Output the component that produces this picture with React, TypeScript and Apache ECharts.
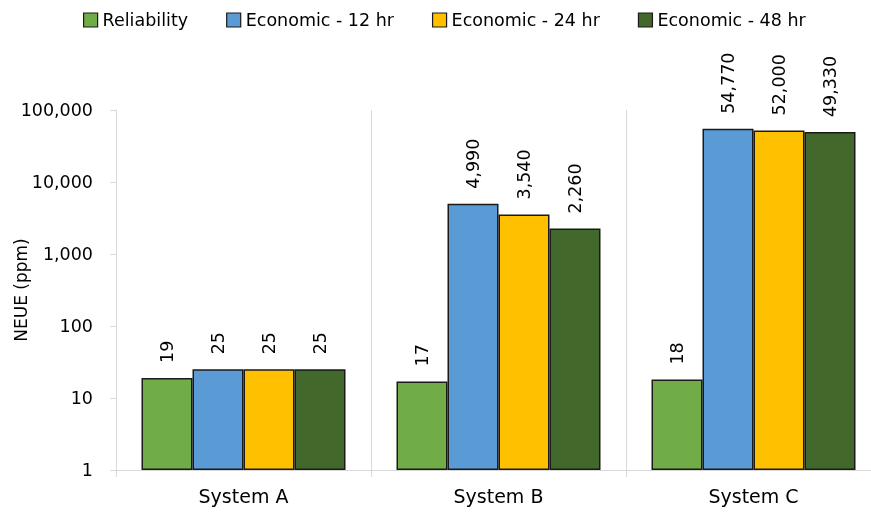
import React, { useEffect, useRef } from "react";
import * as echarts from "echarts";

const categories = ["System A", "System B", "System C"];
const seriesNames = ["Reliability", "Economic - 12 hr", "Economic - 24 hr", "Economic - 48 hr"];
const reliability = [19, 17, 18];
const economic12 = [25, 4990, 54770];
const economic24 = [25, 3540, 52000];
const economic48 = [25, 2260, 49330];
const colors = ["#70ad47", "#5b9bd5", "#ffc000", "#43682b"];

const fmt = (v: number) => Number(v).toLocaleString("en-US");

export default function App() {
  const ref = useRef<HTMLDivElement>(null);
  useEffect(() => {
    if (!ref.current) return;
    const chart = echarts.init(ref.current, null, { renderer: "svg" });
    const allData = [reliability, economic12, economic24, economic48];
    chart.setOption({
      animation: false,
      textStyle: { fontFamily: "DejaVu Sans" },
      legend: {
        top: 6,
        left: 78,
        itemWidth: 14,
        itemHeight: 14,
        itemGap: 38,
        icon: "rect",
        itemStyle: { borderColor: "#1a1a1a", borderWidth: 1.2 },
        textStyle: { fontFamily: "DejaVu Sans", fontSize: 17.5, color: "#000" },
        data: seriesNames,
      },
      grid: { left: 116, right: -10, top: 110, bottom: 44, outerBoundsMode: "none", containLabel: false },
      xAxis: {
        type: "category",
        data: categories,
        axisLine: { lineStyle: { color: "#d9d9d9", width: 1 } },
        axisTick: { show: true, length: 7, lineStyle: { color: "#d9d9d9" } },
        splitLine: { show: true, lineStyle: { color: "#d9d9d9", width: 1 } },
        axisLabel: { fontFamily: "DejaVu Sans", fontSize: 19, color: "#000", margin: 16 },
      },
      yAxis: {
        type: "log",
        logBase: 10,
        min: 1,
        max: 100000,
        name: "NEUE (ppm)",
        nameLocation: "middle",
        nameGap: 87,
        nameMoveOverlap: false,
        nameTextStyle: { fontFamily: "DejaVu Sans", fontSize: 17, color: "#000" },
        axisLine: { show: true, lineStyle: { color: "#d9d9d9", width: 1 } },
        axisTick: { show: true, length: 6, lineStyle: { color: "#d9d9d9" } },
        splitLine: { show: false },
        axisLabel: {
          fontFamily: "DejaVu Sans",
          fontSize: 17.5,
          color: "#000",
          margin: 23,
          formatter: (v: number) => fmt(v),
        },
      },
      series: seriesNames.map((name, i) => ({
        name,
        type: "bar",
        data: allData[i],
        barGap: "0%",
        barCategoryGap: "20%",
        itemStyle: { color: colors[i], borderColor: "#1a1a1a", borderWidth: 1.5 },
        label: {
          show: true,
          position: "top",
          rotate: 90,
          align: "left",
          verticalAlign: "middle",
          distance: 15,
          fontFamily: "DejaVu Sans",
          fontSize: 17.5,
          color: "#000",
          formatter: (p: any) => fmt(p.value),
        },
      })),
    });
    return () => chart.dispose();
  }, []);
  return (
    <div
      ref={ref}
      style={{ position: "fixed", left: 0, top: 0, width: 871, height: 514 }}
    />
  );
}
